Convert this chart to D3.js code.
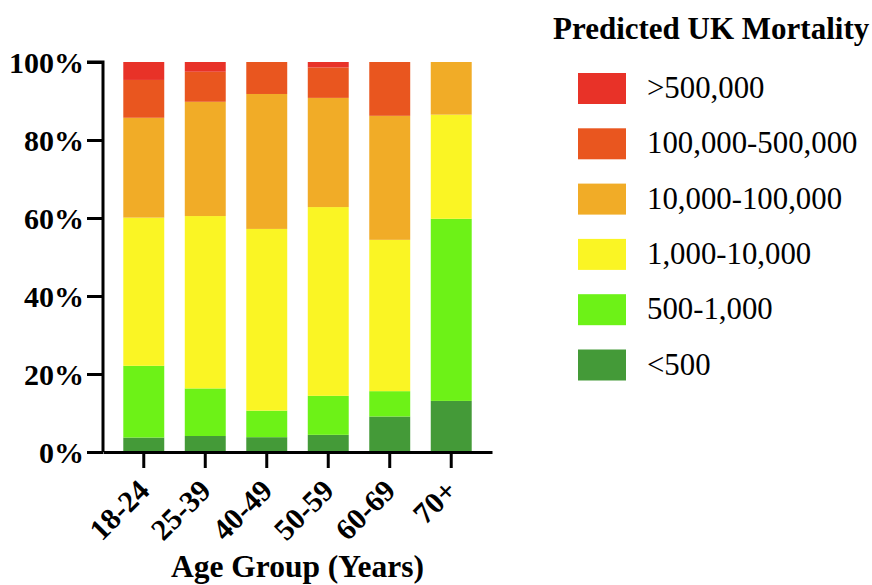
<!DOCTYPE html>
<html>
<head>
<meta charset="utf-8">
<script src="https://d3js.org/d3.v7.min.js"></script>
<style>
  body { margin: 0; background: #fff; }
  text { font-family: "Liberation Serif", "Times New Roman", serif; }
</style>
</head>
<body>
<svg id="chart" width="872" height="585"></svg>
<script>
  // age groups along the x axis
  const ageGroups = ["18-24", "25-39", "40-49", "50-59", "60-69", "70+"];

  // mortality bands, bottom of the stack first
  const bands = ["<500", "500-1,000", "1,000-10,000", "10,000-100,000", "100,000-500,000", ">500,000"];
  const bandColors = ["#449a38", "#6df217", "#faf524", "#f1ac27", "#e9561f", "#e83228"];

  // percent of simulations in each band, per age group
  const under500    = [3.7, 4.1, 3.8, 4.4, 9.1, 13.1];
  const from500     = [18.4, 12.2, 6.8, 10.0, 6.5, 46.7];
  const from1k      = [38.0, 44.2, 46.6, 48.4, 38.8, 26.7];
  const from10k     = [25.6, 29.3, 34.6, 28.0, 31.8, 13.5];
  const from100k    = [9.7, 7.7, 8.2, 7.8, 13.8, 0];
  const over500k    = [4.6, 2.5, 0, 1.4, 0, 0];

  const yTicks = [0, 20, 40, 60, 80, 100];

  const series = [under500, from500, from1k, from10k, from100k, over500k];
  const rows = ageGroups.map((g, i) => {
    const r = { group: g };
    bands.forEach((b, j) => { r[b] = series[j][i]; });
    return r;
  });

  const svg = d3.select("#chart");
  const x0 = 103, x1 = 492, yTop = 62, yBot = 452;

  const x = d3.scaleBand().domain(ageGroups).range([x0, x1])
    .paddingInner(0.334).paddingOuter(0.33);
  const y = d3.scaleLinear().domain([0, 100]).range([yBot, yTop]);
  const color = d3.scaleOrdinal().domain(bands).range(bandColors);

  const stacked = d3.stack().keys(bands)(rows);

  svg.append("g")
    .selectAll("g")
    .data(stacked)
    .join("g")
    .attr("fill", d => color(d.key))
    .selectAll("rect")
    .data(d => d)
    .join("rect")
    .attr("x", d => x(d.data.group))
    .attr("width", x.bandwidth())
    .attr("y", d => y(d[1]))
    .attr("height", d => y(d[0]) - y(d[1]));

  // y axis
  const yAxis = svg.append("g")
    .attr("transform", `translate(${x0},0)`)
    .call(d3.axisLeft(y).tickValues(yTicks).tickSize(16).tickPadding(3)
      .tickFormat(d => d + "%"));
  yAxis.select(".domain").attr("stroke", "#000").attr("stroke-width", 3)
    .attr("d", `M-16,${yTop}H0V${yBot}`);
  yAxis.selectAll(".tick line").attr("stroke", "#000").attr("stroke-width", 3);
  yAxis.selectAll(".tick text")
    .attr("fill", "#000")
    .style("font-size", "30px")
    .style("font-weight", "bold")
    .attr("dy", "0.34em");

  // x axis
  const xAxis = svg.append("g")
    .attr("transform", `translate(0,${yBot})`)
    .call(d3.axisBottom(x).tickSize(16).tickSizeOuter(0));
  xAxis.select(".domain").attr("stroke", "#000").attr("stroke-width", 3);
  xAxis.selectAll(".tick line").attr("stroke", "#000").attr("stroke-width", 3);
  xAxis.selectAll(".tick text")
    .attr("fill", "#000")
    .style("font-size", "30px")
    .style("font-weight", "bold")
    .attr("text-anchor", "end")
    .attr("transform", "translate(0,33) rotate(-45)")
    .attr("y", 0)
    .attr("dy", "0.35em");

  svg.append("text")
    .attr("x", (x0 + x1) / 2)
    .attr("y", 577)
    .attr("text-anchor", "middle")
    .style("font-size", "31.5px")
    .style("font-weight", "bold")
    .text("Age Group (Years)");

  // legend
  svg.append("text")
    .attr("x", 553)
    .attr("y", 39)
    .style("font-size", "31px")
    .style("font-weight", "bold")
    .text("Predicted UK Mortality");

  const legendBands = bands.slice().reverse();
  const leg = svg.append("g")
    .selectAll("g")
    .data(legendBands)
    .join("g")
    .attr("transform", (d, i) => `translate(578,${73 + i * 55.3})`);
  leg.append("rect")
    .attr("width", 48)
    .attr("height", 31)
    .attr("fill", d => color(d));
  leg.append("text")
    .attr("x", 69)
    .attr("y", 25)
    .style("font-size", "30.8px")
    .attr("fill", "#000")
    .text(d => d);
</script>
</body>
</html>
